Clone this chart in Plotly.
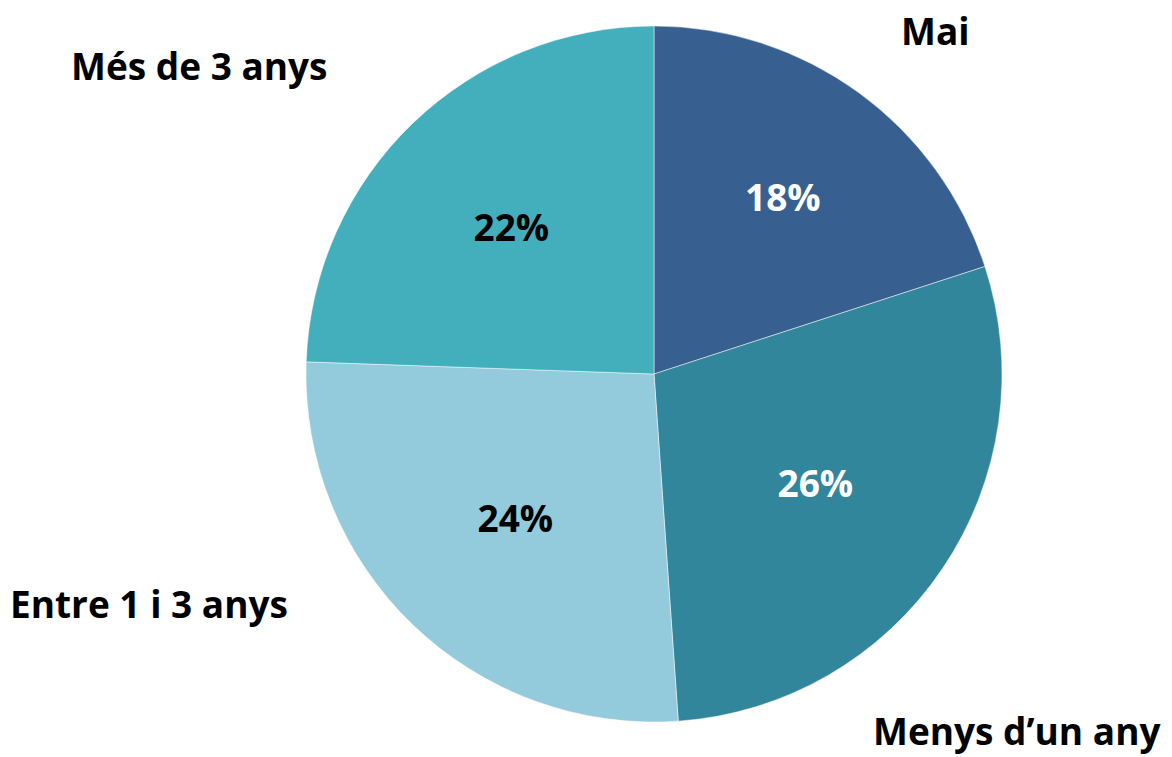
import plotly.graph_objects as go

categories = ["Mai", "Menys d\u2019un any", "Entre 1 i 3 anys", "Més de 3 anys"]
values = [18, 26, 24, 22]
colors = ["#375F8F", "#31869B", "#93CBDC", "#43AFBD"]
text_colors = ["white", "white", "black", "black"]

W, H = 1172, 757
cx, cy, r = 654, 374, 348

fig = go.Figure(go.Pie(
    labels=categories,
    values=values,
    sort=False,
    direction="clockwise",
    rotation=0,
    marker=dict(colors=colors, line=dict(color="rgba(255,255,255,0.6)", width=0.8)),
    texttemplate="<b>%{value}%</b>",
    textposition="inside",
    insidetextorientation="horizontal",
    insidetextfont=dict(family="Open Sans", size=37, color=text_colors),
    hoverinfo="label+value",
    domain=dict(x=[(cx - r) / W, (cx + r) / W], y=[1 - (cy + r) / H, 1 - (cy - r) / H]),
    showlegend=False,
))

label_pos = [(935, 30), (1017, 730), (149, 603), (199, 66)]
for lab, (x, y) in zip(categories, label_pos):
    fig.add_annotation(
        x=x / W, y=1 - y / H, xref="paper", yref="paper",
        text=f"<b>{lab}</b>", showarrow=False,
        font=dict(family="Open Sans", size=37, color="black"),
        xanchor="center", yanchor="middle", borderpad=0,
    )

fig.update_layout(
    width=W, height=H,
    margin=dict(l=0, r=0, t=0, b=0),
    paper_bgcolor="white",
    plot_bgcolor="white",
)

fig.write_html(
    "out.html",
    config={"displayModeBar": False},
    post_script="document.body.style.margin='0';document.body.style.overflow='hidden';",
)
